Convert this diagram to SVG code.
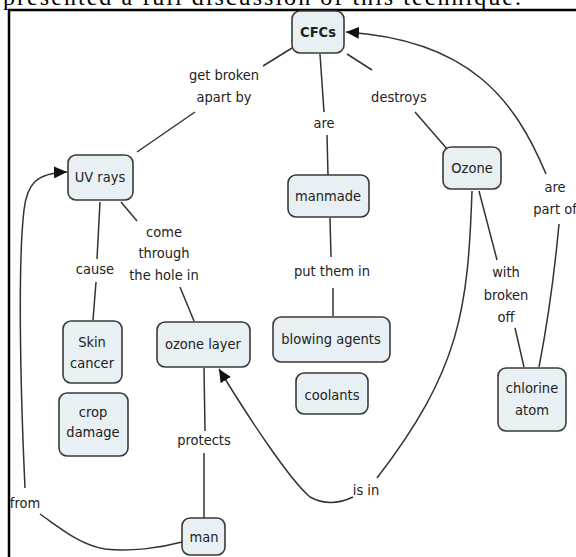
<svg xmlns="http://www.w3.org/2000/svg" width="576" height="557" viewBox="0 0 576 557">
<style>
.node rect{fill:#e8f0f3;stroke:#3a3a3a;stroke-width:1.6}
text{font-family:"DejaVu Sans Condensed","DejaVu Sans",sans-serif;font-size:14.5px;fill:#222;text-anchor:middle}
.lbl{fill:#333}
.conn path{fill:none;stroke:#333;stroke-width:1.5}
</style>
<defs>
<marker id="arr" markerUnits="userSpaceOnUse" markerWidth="14" markerHeight="12" refX="13" refY="6" orient="auto">
<path d="M0,0 L13,6 L0,12 z" fill="#111"/>
</marker>
</defs>
<rect width="576" height="557" fill="#fff"/>
<text x="3" y="5" style="font-family:'Liberation Serif',serif;font-size:24px;text-anchor:start;fill:#000" textLength="518">presented a full discussion of this technique.</text>
<path d="M9,557 V10 H576" fill="none" stroke="#000" stroke-width="2.5"/>

<g class="conn" id="connectors">
<path d="M292,48 L263,66"/>
<path d="M195,112 L137,152"/>
<path d="M320,54 L324,112"/>
<path d="M327,135 L328,175"/>
<path d="M347,54 L372,70"/>
<path d="M415,112 L448,150"/>
<path d="M100,202 L97,259"/>
<path d="M96,282 L93,320"/>
<path d="M121,202 L137,221"/>
<path d="M180,287 L194,321"/>
<path d="M330,218 L331,257"/>
<path d="M333,288 L333,316"/>
<path d="M479,191 L497,260"/>
<path d="M515,328 L524,367"/>
<path d="M539,367 Q552,300 559,224"/>
<path d="M546,174 C515,100 470,40 346,32" marker-end="url(#arr)"/>
<path d="M472,191 C468,310 460,370 377,478"/>
<path d="M353,497 Q330,508 310,497 C290,480 250,420 219,369" marker-end="url(#arr)"/>
<path d="M204,368 L205,431"/>
<path d="M204,453 L204,518"/>
<path d="M182,542 C160,548 130,552 105,549 C80,545 60,528 40,514"/>
<path d="M25,488 C20,380 18,260 24,210 C27,185 35,173 67,172" marker-end="url(#arr)"/>
</g>

<g id="labels" class="lbl">
<text x="224" y="80">get broken</text>
<text x="224" y="102">apart by</text>
<text x="324" y="128">are</text>
<text x="399" y="102">destroys</text>
<text x="95" y="274">cause</text>
<text x="164" y="237">come</text>
<text x="164" y="258">through</text>
<text x="164" y="280">the hole in</text>
<text x="332" y="276">put them in</text>
<text x="506" y="277">with</text>
<text x="506" y="300">broken</text>
<text x="506" y="322">off</text>
<text x="555" y="192">are</text>
<text x="555" y="214">part of</text>
<text x="204" y="445">protects</text>
<text x="25" y="508">from</text>
<text x="366" y="495">is in</text>
</g>

<g class="node" id="cfcs"><rect x="292" y="11" width="52" height="42" rx="8"/><text x="318" y="37" style="font-weight:bold">CFCs</text></g>
<g class="node" id="uvrays"><rect x="68" y="155" width="65" height="45" rx="8"/><text x="100" y="182">UV rays</text></g>
<g class="node" id="manmade"><rect x="288" y="175" width="81" height="42" rx="8"/><text x="328" y="201">manmade</text></g>
<g class="node" id="ozone"><rect x="443" y="147" width="58" height="42" rx="8"/><text x="472" y="173">Ozone</text></g>
<g class="node" id="skincancer"><rect x="63" y="321" width="59" height="62" rx="8"/><text x="92" y="347">Skin</text><text x="92" y="368">cancer</text></g>
<g class="node" id="cropdamage"><rect x="59" y="393" width="69" height="63" rx="8"/><text x="93" y="417">crop</text><text x="93" y="437">damage</text></g>
<g class="node" id="ozonelayer"><rect x="157" y="322" width="93" height="45" rx="8"/><text x="203" y="349">ozone layer</text></g>
<g class="node" id="man"><rect x="182" y="518" width="43" height="37" rx="8"/><text x="204" y="542">man</text></g>
<g class="node" id="blowingagents"><rect x="273" y="317" width="117" height="45" rx="8"/><text x="331" y="344">blowing agents</text></g>
<g class="node" id="coolants"><rect x="296" y="373" width="72" height="41" rx="8"/><text x="332" y="400">coolants</text></g>
<g class="node" id="chlorineatom"><rect x="498" y="368" width="68" height="63" rx="8"/><text x="532" y="393">chlorine</text><text x="532" y="415">atom</text></g>
</svg>
